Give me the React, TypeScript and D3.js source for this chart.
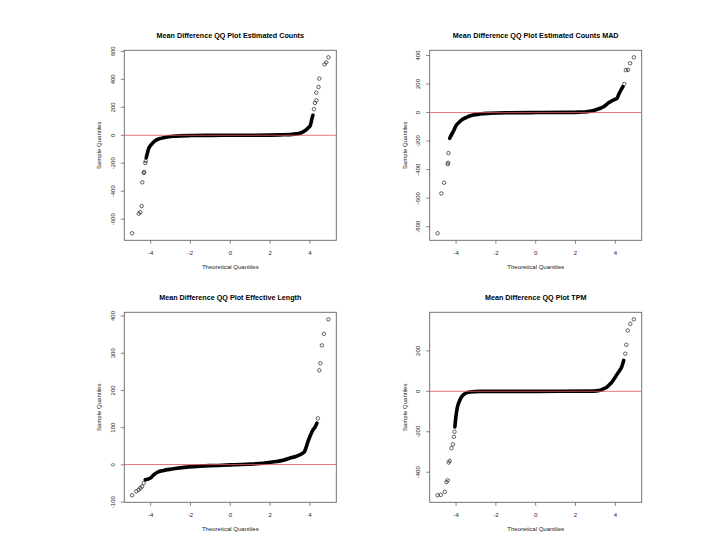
import React from "react";
import * as d3 from "d3";

type Pt = [number, number];

// shared theoretical quantile range and x ticks
const qRange: Pt = [-4.93, 4.93];
const xTicks = [-4, -2, 0, 2, 4];

const titles = [
  "Mean Difference QQ Plot Estimated Counts",
  "Mean Difference QQ Plot Estimated Counts MAD",
  "Mean Difference QQ Plot Effective Length",
  "Mean Difference QQ Plot TPM",
];

// ---- Estimated Counts ----
const countsCurve: Pt[] = [
  [-4.22, -160], [-4.1, -95], [-4.0, -72], [-3.93, -60], [-3.8, -42], [-3.68, -31],
  [-3.5, -22], [-3.35, -17], [-3.1, -11], [-2.85, -7], [-2.5, -4], [-2.0, -2],
  [-1.0, -0.5], [0, 0], [1.0, 0.5], [2.0, 1.5], [2.5, 3], [2.98, 5], [3.3, 10],
  [3.48, 14], [3.65, 24], [3.82, 40], [3.95, 58], [4.02, 71], [4.1, 119], [4.15, 143],
];
const countsTail: Pt[] = [
  [-4.93, -700], [-4.6, -560], [-4.52, -550], [-4.45, -505], [-4.42, -336],
  [-4.35, -269], [-4.32, -262], [-4.27, -198], [-4.25, -183],
  [4.2, 186], [4.25, 231], [4.33, 250], [4.32, 305], [4.43, 345], [4.47, 405],
  [4.73, 507], [4.82, 521], [4.93, 557],
];
const countsTicks = [-600, -400, -200, 0, 200, 400, 600];

// ---- Estimated Counts MAD ----
const madCurve: Pt[] = [
  [-4.32, -181], [-4.25, -160], [-4.15, -135], [-3.98, -88], [-3.85, -68], [-3.73, -53],
  [-3.48, -34], [-3.14, -17.5], [-2.8, -10], [-2.3, -5], [-1.5, -1.5], [0, 0],
  [1.5, 1], [2.2, 3], [2.57, 6], [2.85, 12], [3.07, 22], [3.25, 30], [3.41, 41],
  [3.55, 55], [3.66, 69], [3.8, 80], [3.91, 88], [4.08, 99], [4.16, 123], [4.28, 158],
  [4.38, 181],
];
const madTail: Pt[] = [
  [-4.93, -846], [-4.74, -567], [-4.6, -492], [-4.42, -362], [-4.4, -352], [-4.38, -284],
  [4.45, 200], [4.53, 297], [4.64, 300], [4.74, 345], [4.93, 387],
];
const madTicks = [-800, -600, -400, -200, 0, 200, 400];

// ---- Effective Length ----
const lengthCurve: Pt[] = [
  [-4.27, -40], [-4.1, -37.5], [-3.98, -34], [-3.85, -27], [-3.68, -20.5], [-3.35, -15],
  [-3.0, -11.5], [-2.68, -9], [-2.2, -6], [-1.85, -4.5], [-1.02, -2], [0, 0],
  [0.82, 1.8], [1.65, 4.5], [2.32, 9], [2.7, 13], [2.98, 18], [3.25, 22], [3.48, 27],
  [3.62, 31], [3.73, 36], [3.82, 49], [3.9, 62.5], [4.02, 79], [4.15, 94], [4.27, 103],
  [4.35, 112],
];
const lengthTail: Pt[] = [
  [-4.93, -81.5], [-4.72, -71], [-4.6, -67], [-4.52, -62], [-4.43, -58], [-4.35, -49],
  [4.4, 125], [4.47, 254], [4.52, 273], [4.6, 321], [4.7, 352], [4.93, 391],
];
const lengthTicks = [-100, 0, 100, 200, 300, 400];

// ---- TPM ----
const tpmCurve: Pt[] = [
  [-4.06, -176], [-4.01, -127], [-3.95, -86], [-3.85, -53], [-3.73, -28], [-3.56, -11.5],
  [-3.31, -3.3], [-2.8, 0], [0, 0], [2.9, 1], [3.24, 5], [3.4, 12], [3.58, 21],
  [3.7, 33], [3.83, 46], [4.0, 71], [4.16, 95], [4.33, 123], [4.42, 153],
];
const tpmTail: Pt[] = [
  [-4.93, -514], [-4.77, -512], [-4.57, -497], [-4.48, -449], [-4.42, -440],
  [-4.37, -352], [-4.32, -344], [-4.23, -281], [-4.16, -262], [-4.11, -225], [-4.08, -200],
  [4.5, 186], [4.55, 230], [4.62, 301], [4.75, 334], [4.93, 356],
];
const tpmTicks = [-400, -200, 0, 200];

// qqline (intercept, slope)
const refLines: Pt[] = [[0, 0], [0, 0], [1, 0], [0, 0]];

const dataSets = [
  { curve: countsCurve, tail: countsTail, ticks: countsTicks },
  { curve: madCurve, tail: madTail, ticks: madTicks },
  { curve: lengthCurve, tail: lengthTail, ticks: lengthTicks },
  { curve: tpmCurve, tail: tpmTail, ticks: tpmTicks },
];

// layout
const boxLefts = [124.3, 429.7, 124.3, 429.7];
const boxTops = [50.3, 50.3, 312.3, 312.3];
const boxW = 212;
const boxH = 190;
const FONT = "'Liberation Sans', Arial, Helvetica, sans-serif";

function padExtent(vals: number[]): [number, number] {
  const [a, b] = d3.extent(vals) as [number, number];
  const p = (b - a) * 0.04;
  return [a - p, b + p];
}

function Panel({ idx }: { idx: number }) {
  const { curve, tail, ticks } = dataSets[idx];
  const left = boxLefts[idx];
  const top = boxTops[idx];
  const x = d3.scaleLinear().domain(padExtent(qRange as number[])).range([left, left + boxW]);
  const allV = [...curve, ...tail].map((d) => d[1]);
  const y = d3.scaleLinear().domain(padExtent(allV)).range([top + boxH, top]);
  const line = d3
    .line<Pt>()
    .x((d) => x(d[0]))
    .y((d) => y(d[1]))
    .curve(d3.curveMonotoneX);
  const [ic, sl] = refLines[idx];
  const xd = x.domain();
  const clipId = `clip${idx}`;
  const cx = left + boxW / 2;
  return (
    <g>
      <defs>
        <clipPath id={clipId}>
          <rect x={left} y={top} width={boxW} height={boxH} />
        </clipPath>
      </defs>
      <text
        x={cx}
        y={top - 12}
        textAnchor="middle"
        fontFamily={FONT}
        fontWeight="bold"
        fontSize={7.2}
        fill="#000"
      >
        {titles[idx]}
      </text>
      <g clipPath={`url(#${clipId})`}>
        <path
          d={line(curve) || ""}
          fill="none"
          stroke="#000"
          strokeWidth={3.6}
          strokeLinejoin="round"
          strokeLinecap="round"
        />
        {tail.map((d, i) => (
          <circle
            key={i}
            cx={x(d[0])}
            cy={y(d[1])}
            r={1.75}
            fill="none"
            stroke="#000"
            strokeWidth={0.6}
          />
        ))}
      </g>
      <rect x={left} y={top} width={boxW} height={boxH} fill="none" stroke="#666" strokeWidth={0.9} />
      <g clipPath={`url(#${clipId})`}>
        <line
          x1={x(xd[0])}
          x2={x(xd[1])}
          y1={y(ic + sl * xd[0])}
          y2={y(ic + sl * xd[1])}
          stroke="#e0505f"
          strokeWidth={0.8}
        />
      </g>
      {/* x axis */}
      {xTicks.map((t) => (
        <g key={`x${t}`}>
          <line x1={x(t)} x2={x(t)} y1={top + boxH} y2={top + boxH + 3.5} stroke="#666" strokeWidth={0.8} />
          <text
            x={x(t)}
            y={top + boxH + 14.2}
            textAnchor="middle"
            fontFamily={FONT}
            fontSize={6}
            fill="#222"
          >
            {`${t}`}
          </text>
        </g>
      ))}
      {/* y axis */}
      {ticks.map((t) => (
        <g key={`y${t}`}>
          <line x1={left} x2={left - 3.5} y1={y(t)} y2={y(t)} stroke="#666" strokeWidth={0.8} />
          <text
            transform={`translate(${left - 9.6},${y(t)}) rotate(-90)`}
            textAnchor="middle"
            fontFamily={FONT}
            fontSize={6}
            fill="#222"
          >
            {`${t}`}
          </text>
        </g>
      ))}
      <text
        x={cx}
        y={top + boxH + 28.6}
        textAnchor="middle"
        fontFamily={FONT}
        fontSize={6}
        fill="#222"
      >
        Theoretical Quantiles
      </text>
      <text
        transform={`translate(${left - 23.2},${top + boxH / 2}) rotate(-90)`}
        textAnchor="middle"
        fontFamily={FONT}
        fontSize={6}
        fill="#222"
      >
        Sample Quantiles
      </text>
    </g>
  );
}

export default function App() {
  return (
    <svg
      width={720}
      height={540}
      viewBox="0 0 720 540"
      style={{ position: "absolute", left: 0, top: 0, background: "#fff" }}
    >
      <rect x={0} y={0} width={720} height={540} fill="#fff" />
      {[0, 1, 2, 3].map((i) => (
        <Panel key={i} idx={i} />
      ))}
    </svg>
  );
}
